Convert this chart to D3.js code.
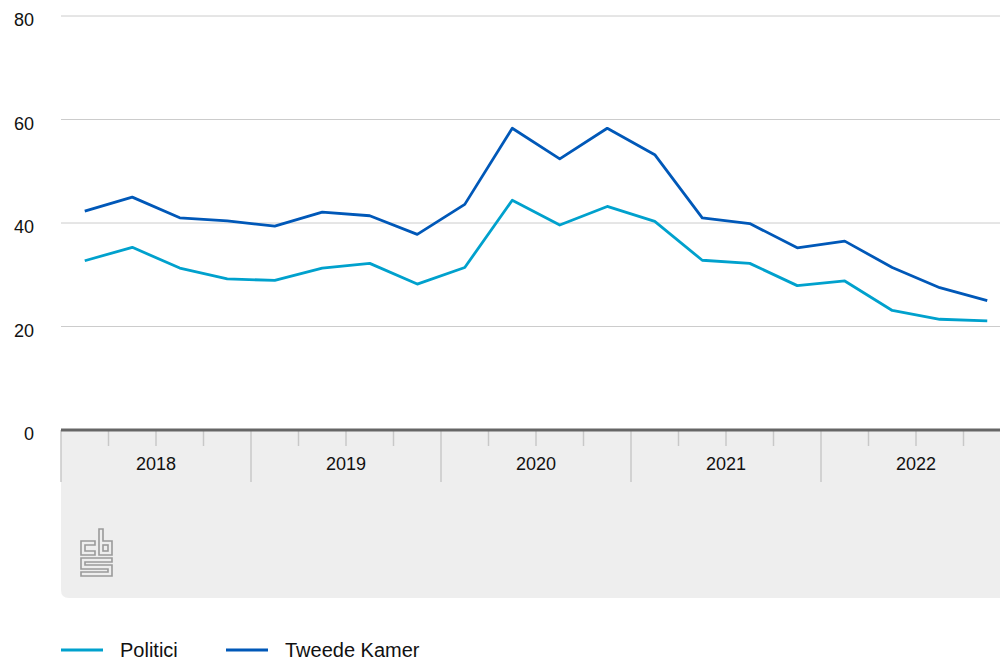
<!doctype html>
<html>
<head>
<meta charset="utf-8">
<script src="https://d3js.org/d3.v7.min.js"></script>
<style>
  body { margin: 0; background: #fff; }
  svg text { font-family: "Liberation Sans", Arial, Helvetica, sans-serif; fill: #111; }
</style>
</head>
<body>
<svg id="chart" width="1000" height="660"></svg>
<script>
// quarterly figures, 2018 Q1 - 2022 Q4
var years = ["2018", "2019", "2020", "2021", "2022"]
var quarters = ["2018K1","2018K2","2018K3","2018K4","2019K1","2019K2","2019K3","2019K4",
                "2020K1","2020K2","2020K3","2020K4","2021K1","2021K2","2021K3","2021K4",
                "2022K1","2022K2","2022K3","2022K4"]
var politici = [32.7, 35.3, 31.3, 29.2, 28.9, 31.3, 32.2, 28.2, 31.4, 44.4,
                39.6, 43.2, 40.3, 32.8, 32.2, 27.9, 28.8, 23.1, 21.4, 21.1]
var tweedeKamer = [42.3, 45.0, 41.0, 40.4, 39.4, 42.1, 41.4, 37.8, 43.6, 58.3,
                   52.4, 58.3, 53.2, 41.0, 39.9, 35.2, 36.5, 31.4, 27.5, 25.0]
var yTicks = [0, 20, 40, 60, 80]
var seriesNames = ["Politici", "Tweede Kamer"]
var seriesColors = ["#00a1cd", "#0058b8"]

var svg = d3.select("#chart")
var plotLeft = 61, plotRight = 1011, plotTop = 16, plotBase = 430

// x: quarter index 0..20 over the full band (last band runs past the edge)
var x = d3.scaleLinear().domain([0, quarters.length]).range([plotLeft, plotRight])
var y = d3.scaleLinear().domain([0, 80]).range([plotBase, plotTop])

// grey panel under the axis
svg.append("path")
    .attr("d", "M" + plotLeft + "," + plotBase + "H1020V598H" + (plotLeft + 8) + "Q" + plotLeft + ",598 " + plotLeft + ",590Z")
    .attr("fill", "#eeeeee")

// gridlines
svg.append("g").selectAll("line")
    .data(yTicks.filter(function(d) { return d > 0 }))
    .enter().append("line")
    .attr("x1", plotLeft).attr("x2", 1000)
    .attr("y1", function(d) { return y(d) }).attr("y2", function(d) { return y(d) })
    .attr("stroke", "#cccccc").attr("stroke-width", 1)

// y labels
var yAxis = svg.append("g").attr("transform", "translate(" + plotLeft + ",4)")
    .call(d3.axisLeft(y).tickValues(yTicks).tickSize(0).tickPadding(27))
yAxis.select(".domain").remove()
yAxis.selectAll("text").style("font-size", "18px").attr("fill", "#111")

// quarter / year ticks
var tickIdx = d3.range(0, quarters.length)
svg.append("g").selectAll("line")
    .data(tickIdx)
    .enter().append("line")
    .attr("x1", function(d) { return x(d) }).attr("x2", function(d) { return x(d) })
    .attr("y1", plotBase)
    .attr("y2", function(d) { return d % 4 == 0 ? 482 : 446 })
    .attr("stroke", "#c8c8c8").attr("stroke-width", 1.5)

// year labels
svg.append("g").selectAll("text")
    .data(years)
    .enter().append("text")
    .attr("x", function(d, i) { return x(i * 4 + 2) })
    .attr("y", 470)
    .attr("text-anchor", "middle")
    .style("font-size", "18px")
    .text(function(d) { return d })

// axis base line
svg.append("line")
    .attr("x1", plotLeft).attr("x2", 1000).attr("y1", plotBase).attr("y2", plotBase)
    .attr("stroke", "#666666").attr("stroke-width", 3)

// lines
var line = d3.line()
    .x(function(d, i) { return x(i + 0.5) })
    .y(function(d) { return y(d) })
var allSeries = [politici, tweedeKamer]
allSeries.forEach(function(s, k) {
    svg.append("path")
        .datum(s)
        .attr("d", line)
        .attr("fill", "none")
        .attr("stroke", seriesColors[k])
        .attr("stroke-width", 2.8)
        .attr("stroke-linejoin", "round")
})

// cbs logo
var logo = svg.append("g").attr("transform", "translate(81,529)")
    .attr("fill", "none").attr("stroke", "#9a9a9a").attr("stroke-width", 1.6)
logo.append("path").attr("d", "M14,12H0V26H14V22H4V16H14Z")
logo.append("path").attr("d", "M18,0H22V12H31V26H18Z")
logo.append("rect").attr("x", 22).attr("y", 16).attr("width", 5).attr("height", 6)
logo.append("path").attr("d", "M0,29H31V33H4V36H31V47H0V43H27V40H0Z")

// legend
var legend = svg.append("g")
var legendX = [61, 226]
seriesNames.forEach(function(name, k) {
    legend.append("line")
        .attr("x1", legendX[k]).attr("x2", legendX[k] + 42)
        .attr("y1", 650).attr("y2", 650)
        .attr("stroke", seriesColors[k]).attr("stroke-width", 3)
    legend.append("text")
        .attr("x", legendX[k] + 59).attr("y", 657)
        .style("font-size", "20px")
        .text(name)
})
</script>
</body>
</html>
